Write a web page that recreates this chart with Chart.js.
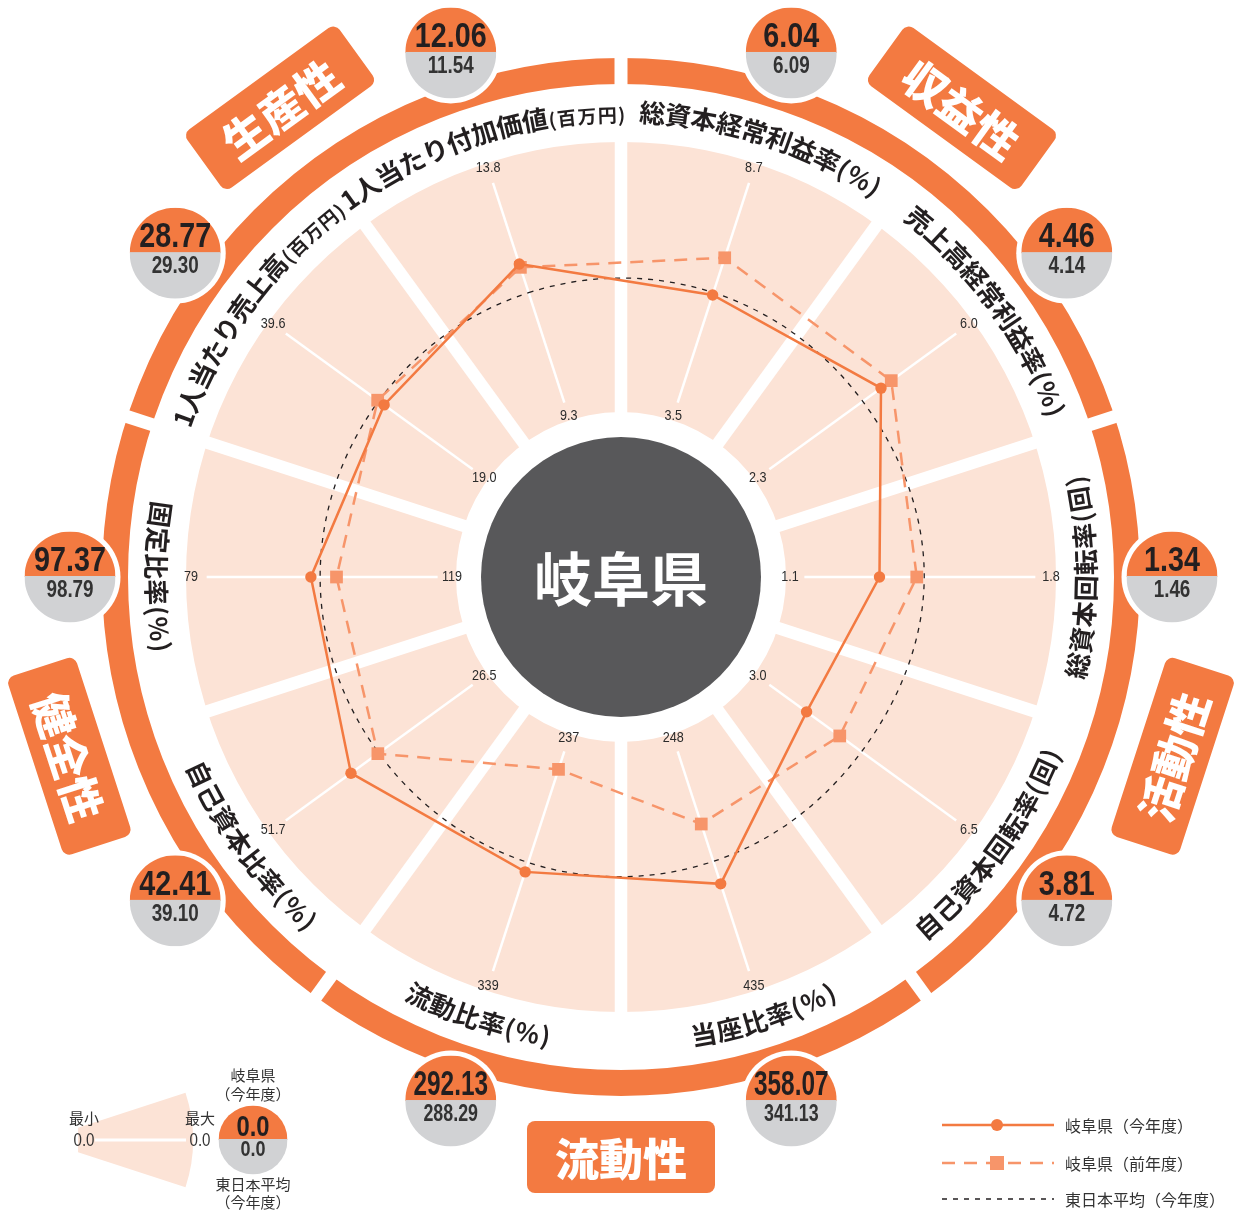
<!DOCTYPE html>
<html lang="ja">
<head>
<meta charset="utf-8">
<title>岐阜県 財務指標レーダー</title>
<script src="https://cdn.jsdelivr.net/npm/chart.js@4.4.1/dist/chart.umd.min.js"></script>
<style>
  html, body { margin: 0; padding: 0; background: #fff; }
  canvas { display: block; }
</style>
</head>
<body>
<canvas id="radar" width="1239" height="1211"></canvas>
<script>
// axes, clockwise from the top-left spoke
const axisNames = ['1人当たり付加価値', '総資本経常利益率', '売上高経常利益率', '総資本回転率', '自己資本回転率', '当座比率', '流動比率', '自己資本比率', '固定比率', '1人当たり売上高']
const axisUnits = ['(百万円)', '(%)', '(%)', '(回)', '(回)', '(%)', '(%)', '(%)', '(%)', '(百万円)']
const axisMin = [9.3, 3.5, 2.3, 1.1, 3.0, 248, 237, 26.5, 119, 19.0]
const axisMax = [13.8, 8.7, 6.0, 1.8, 6.5, 435, 339, 51.7, 79, 39.6]
const minLabels = ['9.3', '3.5', '2.3', '1.1', '3.0', '248', '237', '26.5', '119', '19.0']
const maxLabels = ['13.8', '8.7', '6.0', '1.8', '6.5', '435', '339', '51.7', '79', '39.6']

const gifuThisYear = [12.06, 6.04, 4.46, 1.34, 3.81, 358.07, 292.13, 42.41, 97.37, 28.77]
const gifuLastYear = [12.0, 6.82, 4.64, 1.44, 4.36, 313, 250, 39.2, 101.3, 29.4]
const eastAverage = [11.54, 6.09, 4.14, 1.46, 4.72, 341.13, 288.29, 39.10, 98.79, 29.30]

const groupNames = ['生産性', '収益性', '活動性', '流動性', '健全性']
const legendNames = ['岐阜県（今年度）', '岐阜県（前年度）', '東日本平均（今年度）']

const ORANGE = '#f37a41'
const LIGHT_ORANGE = '#f7956a'
const PINK = '#fce3d6'
const GRAY = '#d1d2d4'
const DARK = '#58585a'
const INK = '#231f20'
const JP = '"Noto Sans CJK JP", "Noto Sans", sans-serif'
const NUM = '"Liberation Sans", Arial, sans-serif'

// each axis has its own range, so values go on a 0..1 scale (min..max)
const toScale = (values) => values.map((v, i) => (v - axisMin[i]) / (axisMax[i] - axisMin[i]))
// the inner white ring: the axis minimum sits away from the center
const SCALE_MIN = -169 / 261

function polar(cx, cy, r, a) {
  return { x: cx + r * Math.sin(a), y: cy - r * Math.cos(a) }
}

function isLowerHalf(a) {
  const d = ((a % (Math.PI * 2)) + Math.PI * 2) % (Math.PI * 2)
  return d > Math.PI / 2 - 0.01 && d < Math.PI * 1.5 + 0.01
}

// condensed look for numbers: squeeze a regular sans horizontally
function narrowText(ctx, text, x, y, font, squeeze = 0.84, maxWidth) {
  ctx.save()
  ctx.translate(x, y)
  ctx.scale(squeeze, 1)
  ctx.font = font
  if (maxWidth) ctx.fillText(text, 0, 0, maxWidth / squeeze)
  else ctx.fillText(text, 0, 0)
  ctx.restore()
}

function arcText(ctx, cx, cy, r, angle, parts, inward) {
  const glyphs = []
  parts.forEach((p) => {
    ctx.font = `bold ${p.size}px ${JP}`
    for (const ch of p.text) glyphs.push({ ch, size: p.size, dy: p.dy || 0, w: ctx.measureText(ch).width + (p.pad || 0) })
  })
  const total = glyphs.reduce((s, g) => s + g.w, 0)
  let acc = 0
  glyphs.forEach((g) => {
    const off = (acc + g.w / 2 - total / 2) / r
    const a = inward ? angle - off : angle + off
    const p = polar(cx, cy, r, a)
    ctx.save()
    ctx.translate(p.x, p.y)
    ctx.rotate(inward ? a - Math.PI : a)
    ctx.font = `bold ${g.size}px ${JP}`
    ctx.fillText(g.ch, 0, g.dy)
    ctx.restore()
    acc += g.w
  })
}

function roundRect(ctx, x, y, w, h, r) {
  ctx.beginPath()
  ctx.moveTo(x + r, y)
  ctx.arcTo(x + w, y, x + w, y + h, r)
  ctx.arcTo(x + w, y + h, x, y + h, r)
  ctx.arcTo(x, y + h, x, y, r)
  ctx.arcTo(x, y, x + w, y, r)
  ctx.closePath()
}

function valueBadge(ctx, x, y, r, top, bottom, topSize, bottomSize) {
  ctx.fillStyle = '#fff'
  ctx.beginPath()
  ctx.arc(x, y, r + 5, 0, Math.PI * 2)
  ctx.fill()
  ctx.save()
  ctx.beginPath()
  ctx.arc(x, y, r, 0, Math.PI * 2)
  ctx.clip()
  ctx.fillStyle = ORANGE
  ctx.fillRect(x - r, y - r, r * 2, r)
  ctx.fillStyle = GRAY
  ctx.fillRect(x - r, y - 1, r * 2, r + 1)
  ctx.restore()
  ctx.textAlign = 'center'
  ctx.textBaseline = 'middle'
  ctx.fillStyle = INK
  narrowText(ctx, top, x, y - r * 0.34, `bold ${topSize}px ${NUM}`, 0.82, r * 1.64)
  ctx.fillStyle = '#333'
  narrowText(ctx, bottom, x, y + r * 0.3, `bold ${bottomSize}px ${NUM}`, 0.82, r * 1.2)
}

const backdrop = {
  id: 'backdrop',
  beforeDatasetsDraw(chart) {
    const ctx = chart.ctx
    const s = chart.scales.r
    const cx = s.xCenter
    const cy = s.yCenter
    const n = axisNames.length
    const step = (Math.PI * 2) / n
    ctx.save()

    // pink sectors
    ctx.fillStyle = PINK
    ctx.beginPath()
    ctx.arc(cx, cy, 435, 0, Math.PI * 2)
    ctx.arc(cx, cy, 165, 0, Math.PI * 2, true)
    ctx.fill()

    ctx.strokeStyle = '#fff'
    ctx.lineWidth = 12.5
    for (let i = 0; i < n; i++) {
      const a = s.getIndexAngle(i) + step / 2
      const p1 = polar(cx, cy, 150, a)
      const p2 = polar(cx, cy, 445, a)
      ctx.beginPath()
      ctx.moveTo(p1.x, p1.y)
      ctx.lineTo(p2.x, p2.y)
      ctx.stroke()
    }

    // spokes and their min / max labels
    ctx.lineWidth = 2.5
    for (let i = 0; i < n; i++) {
      const p1 = s.getPointPositionForValue(i, 0.055)
      const p2 = s.getPointPositionForValue(i, 0.94)
      ctx.beginPath()
      ctx.moveTo(p1.x, p1.y)
      ctx.lineTo(p2.x, p2.y)
      ctx.stroke()
    }
    ctx.fillStyle = '#2b2b2b'
    ctx.textAlign = 'center'
    ctx.textBaseline = 'middle'
    for (let i = 0; i < n; i++) {
      const lo = s.getPointPositionForValue(i, 0)
      const hi = s.getPointPositionForValue(i, 1)
      narrowText(ctx, minLabels[i], lo.x, lo.y, `15px ${NUM}`)
      narrowText(ctx, maxLabels[i], hi.x, hi.y, `15px ${NUM}`)
    }

    // center disc
    ctx.fillStyle = DARK
    ctx.beginPath()
    ctx.arc(cx, cy, 140, 0, Math.PI * 2)
    ctx.fill()
    ctx.fillStyle = '#fff'
    ctx.font = `bold 58px ${JP}`
    ctx.fillText('岐阜県', cx, cy + 2)

    // outer ring, split into five groups
    ctx.strokeStyle = ORANGE
    ctx.lineWidth = 26
    ctx.beginPath()
    ctx.arc(cx, cy, 506, 0, Math.PI * 2)
    ctx.stroke()
    ctx.strokeStyle = '#fff'
    ctx.lineWidth = 13
    for (let k = 0; k < groupNames.length; k++) {
      const a = k * step * 2
      const p1 = polar(cx, cy, 485, a)
      const p2 = polar(cx, cy, 530, a)
      ctx.beginPath()
      ctx.moveTo(p1.x, p1.y)
      ctx.lineTo(p2.x, p2.y)
      ctx.stroke()
    }

    // group badges
    groupNames.forEach((name, k) => {
      const a = s.getIndexAngle(k * 2) - step / 2
      const p = polar(cx, cy, 580, a)
      ctx.save()
      ctx.translate(p.x, p.y)
      ctx.rotate(isLowerHalf(a) ? a - Math.PI : a)
      ctx.fillStyle = ORANGE
      roundRect(ctx, -94, -36, 188, 72, 8)
      ctx.fill()
      ctx.fillStyle = '#fff'
      ctx.font = `900 44px ${JP}`
      ctx.fillText(name, 0, 2)
      ctx.restore()
    })

    // axis titles along the arc
    ctx.fillStyle = INK
    for (let i = 0; i < n; i++) {
      const a = s.getIndexAngle(i)
      const small = axisUnits[i].length > 3
      const parts = [
        { text: axisNames[i], size: 26 },
        { text: axisUnits[i], size: small ? 19 : 25, dy: small ? 3 : 0, pad: 1.5 }
      ]
      arcText(ctx, cx, cy, 465, a, parts, isLowerHalf(a))
    }

    // value circles
    for (let i = 0; i < n; i++) {
      const p = polar(cx, cy, 551, s.getIndexAngle(i))
      valueBadge(ctx, p.x, p.y, 45.5, gifuThisYear[i].toFixed(2), eastAverage[i].toFixed(2), 35, 23)
    }

    ctx.restore()
  },
  afterDraw(chart) {
    const ctx = chart.ctx
    ctx.save()

    // key for the scale (bottom left)
    const kx = 40
    const ky = 1140
    const half = (18 * Math.PI) / 180
    ctx.fillStyle = PINK
    ctx.beginPath()
    ctx.moveTo(kx + 40 * Math.cos(half), ky - 40 * Math.sin(half))
    ctx.arc(kx, ky, 153, -half, half)
    ctx.lineTo(kx + 40 * Math.cos(half), ky + 40 * Math.sin(half))
    ctx.closePath()
    ctx.fill()
    ctx.strokeStyle = '#fff'
    ctx.lineWidth = 3
    ctx.beginPath()
    ctx.moveTo(95, ky)
    ctx.lineTo(186, ky)
    ctx.stroke()

    ctx.textAlign = 'center'
    ctx.textBaseline = 'middle'
    ctx.fillStyle = '#333'
    ctx.font = `15px ${JP}`
    ctx.fillText('最小', 84, 1118)
    ctx.fillText('最大', 200, 1118)
    narrowText(ctx, '0.0', 84, 1141, `18px ${NUM}`)
    narrowText(ctx, '0.0', 200, 1141, `18px ${NUM}`)
    ctx.font = `15px ${JP}`
    ctx.fillText('岐阜県', 253, 1075)
    ctx.fillText('（今年度）', 253, 1094)
    ctx.fillText('東日本平均', 253, 1184)
    ctx.fillText('（今年度）', 253, 1202)
    valueBadge(ctx, 253, 1140, 34.5, '0.0', '0.0', 29, 22)

    // series key (bottom right)
    const lx1 = 942
    const lx2 = 1054
    const mid = 997
    const rows = [1125, 1163, 1199]
    ctx.lineWidth = 2.5
    ctx.strokeStyle = ORANGE
    ctx.beginPath()
    ctx.moveTo(lx1, rows[0])
    ctx.lineTo(lx2, rows[0])
    ctx.stroke()
    ctx.fillStyle = ORANGE
    ctx.beginPath()
    ctx.arc(mid, rows[0], 6, 0, Math.PI * 2)
    ctx.fill()

    ctx.strokeStyle = LIGHT_ORANGE
    ctx.setLineDash([13, 9])
    ctx.beginPath()
    ctx.moveTo(lx1, rows[1])
    ctx.lineTo(lx2, rows[1])
    ctx.stroke()
    ctx.setLineDash([])
    ctx.fillStyle = LIGHT_ORANGE
    ctx.fillRect(mid - 7, rows[1] - 7, 14, 14)

    ctx.strokeStyle = INK
    ctx.lineWidth = 1.3
    ctx.setLineDash([5, 6])
    ctx.beginPath()
    ctx.moveTo(lx1, rows[2])
    ctx.lineTo(lx2, rows[2])
    ctx.stroke()
    ctx.setLineDash([])

    ctx.fillStyle = '#333'
    ctx.textAlign = 'left'
    ctx.font = `16px ${JP}`
    legendNames.forEach((t, i) => ctx.fillText(t, 1065, rows[i] + 1))

    ctx.restore()
  }
}

new Chart(document.getElementById('radar'), {
  type: 'radar',
  data: {
    labels: axisNames,
    datasets: [
      {
        label: legendNames[0],
        data: toScale(gifuThisYear),
        borderColor: ORANGE,
        backgroundColor: ORANGE,
        borderWidth: 2.5,
        pointStyle: 'circle',
        pointRadius: 5.7,
        pointBackgroundColor: ORANGE,
        pointBorderWidth: 0,
        fill: false
      },
      {
        label: legendNames[1],
        data: toScale(gifuLastYear),
        borderColor: LIGHT_ORANGE,
        backgroundColor: LIGHT_ORANGE,
        borderWidth: 2.5,
        borderDash: [13, 9],
        pointStyle: 'rect',
        pointRadius: 9,
        pointBackgroundColor: LIGHT_ORANGE,
        pointBorderWidth: 0,
        fill: false
      },
      {
        label: legendNames[2],
        data: toScale(eastAverage),
        borderColor: INK,
        borderWidth: 1.3,
        borderDash: [5, 6],
        pointRadius: 0,
        tension: 0.36,
        fill: false
      }
    ]
  },
  options: {
    responsive: false,
    devicePixelRatio: 1,
    animation: false,
    layout: {
      padding: { left: 191, right: 188, top: 147, bottom: 204 }
    },
    scales: {
      r: {
        min: SCALE_MIN,
        max: 1,
        startAngle: -18,
        ticks: { display: false },
        grid: { display: false },
        angleLines: { display: false },
        pointLabels: { display: false }
      }
    },
    plugins: {
      legend: { display: false },
      tooltip: { enabled: false }
    }
  },
  plugins: [backdrop]
})
</script>
</body>
</html>
